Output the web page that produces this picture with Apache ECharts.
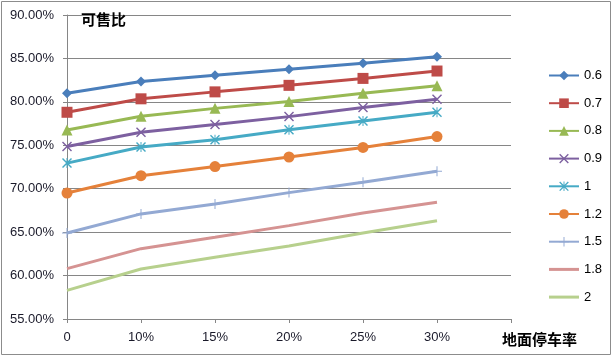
<!DOCTYPE html>
<html><head><meta charset="utf-8">
<script src="https://cdn.jsdelivr.net/npm/echarts@6/dist/echarts.min.js"></script>
<style>html,body{margin:0;padding:0;background:#fff}#c{width:613px;height:357px}</style>
</head><body><div id="c"></div>
<script>
const categories = ['0','10%','15%','20%','25%','30%',''];
const seriesNames = ['0.6','0.7','0.8','0.9','1','1.2','1.5','1.8','2'];
const s06 = [81.0, 82.35, 83.05, 83.75, 84.45, 85.2];
const s07 = [78.8, 80.35, 81.15, 81.9, 82.7, 83.55];
const s08 = [76.75, 78.35, 79.25, 80.05, 81.0, 81.85];
const s09 = [74.85, 76.5, 77.4, 78.3, 79.35, 80.3];
const s10 = [72.95, 74.8, 75.65, 76.8, 77.8, 78.8];
const s12 = [69.5, 71.5, 72.55, 73.65, 74.75, 76.0];
const s15 = [64.9, 67.1, 68.25, 69.55, 70.75, 72.0];
const s18 = [60.8, 63.1, 64.4, 65.75, 67.2, 68.45];
const s20 = [58.3, 60.75, 62.1, 63.4, 64.9, 66.3];
const yTicks = [55, 60, 65, 70, 75, 80, 85, 90];

const values = [s06,s07,s08,s09,s10,s12,s15,s18,s20];
const colors = ['#4A7EBB','#BE4B48','#98B954','#7D60A0','#46AAC5','#E5813A','#93A9D3','#D59392','#B7D08D'];
const X = 'path://M0,1L1,0L10,9L9,10Z M9,0L10,1L1,10L0,9Z';
const STAR = 'path://M0,1L1,0L10,9L9,10Z M9,0L10,1L1,10L0,9Z M4.5,0L5.5,0L5.5,10L4.5,10Z';
const PLUS = 'path://M4.5,0L5.5,0L5.5,10L4.5,10Z M0,4.5L10,4.5L10,5.5L0,5.5Z';
const LINEICON = 'path://M0,0L30,0L30,3L0,3Z';
const symbols = ['diamond','rect','triangle',X,STAR,'circle',PLUS,'none','none'];
const sizes = [10,11,11,10,10,11,10,0,0];

const chart = echarts.init(document.getElementById('c'));
chart.setOption({
  animation:false,
  textStyle:{fontFamily:'"Liberation Sans","Noto Sans CJK SC",sans-serif'},
  title:[
    {text:'可售比',left:76,top:7,textStyle:{fontSize:15,fontWeight:'bold',color:'#000',fontFamily:'"Noto Sans CJK SC",sans-serif'}},
    {text:'地面停车率',left:497,top:327,textStyle:{fontSize:15,fontWeight:'bold',color:'#000',fontFamily:'"Noto Sans CJK SC",sans-serif'}}
  ],
  graphic:[{type:'rect',shape:{x:1.5,y:1.5,width:609,height:353},style:{fill:'none',stroke:'#8c8c8c',lineWidth:1},silent:true}],
  legend:{orient:'vertical',left:543,top:64,itemWidth:30,itemHeight:12,itemGap:14.7,
    textStyle:{fontSize:13,color:'#000'},
    data:seriesNames.map((n,i)=> sizes[i]>0 ? {name:n} : {name:n,icon:LINEICON})},
  grid:{left:67,right:102,top:15,bottom:38},
  xAxis:{type:'category',data:categories,boundaryGap:false,
    axisLine:{lineStyle:{color:'#868686',width:1}},
    axisTick:{show:true,length:4,lineStyle:{color:'#868686'},alignWithLabel:true},
    axisLabel:{color:'#1a1a2a',fontSize:13,margin:12},
    splitLine:{show:false}},
  yAxis:{type:'value',min:55,max:90,interval:5,
    axisLine:{show:true,lineStyle:{color:'#868686'}},
    axisTick:{show:true,length:4,lineStyle:{color:'#868686'}},
    axisLabel:{color:'#1a1a2a',fontSize:13,margin:13,formatter:v=>v.toFixed(2)+'%'},
    splitLine:{lineStyle:{color:'#868686',width:1}}},
  series: seriesNames.map((n,i)=>({
    name:n,type:'line',data:values[i],
    symbol:symbols[i],symbolSize:sizes[i],showSymbol:sizes[i]>0,
    lineStyle:{color:colors[i],width:3},
    itemStyle:{color:colors[i]},
    emphasis:{disabled:true}
  }))
});
</script></body></html>
